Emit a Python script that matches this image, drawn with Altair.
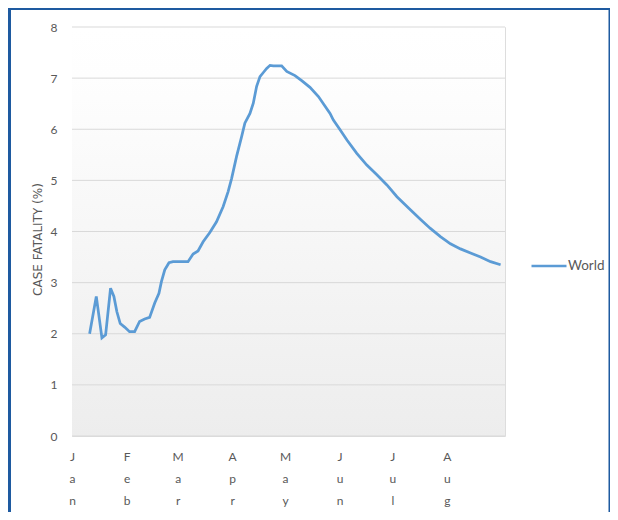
import altair as alt
import pandas as pd

# ---- data ----
month_labels = ["Jan", "Feb", "Mar", "Apr", "May", "Jun", "Jul", "Aug"]
month_days = [0, 31, 60, 91, 121, 152, 182, 213]
y_ticks = [0, 1, 2, 3, 4, 5, 6, 7, 8]
series_name = "World"

days = [10.0, 13.8, 17.0, 19.1, 21.9, 23.8, 25.5, 27.4, 29.9, 32.7, 35.6, 38.4,
        41.3, 44.1, 47.0, 49.4, 50.8, 52.7, 55.1, 57.4, 65.9, 68.8, 71.6, 74.5,
        78.3, 82.1, 85.9, 88.7, 90.7, 93.5, 96.4, 98.2, 101.1, 103.0, 104.9,
        106.8, 108.7, 110.6, 112.5, 114.4, 119.1, 122.0, 126.7, 130.5, 135.2,
        140.0, 146.6, 148.5, 152.3, 156.2, 161.8, 167.5, 173.2, 178.9, 184.6,
        191.2, 197.9, 203.6, 209.3, 215.0, 220.7, 226.4, 232.1, 237.8, 243.5]
cfr = [2.00, 2.73, 1.92, 1.98, 2.89, 2.73, 2.43, 2.20, 2.13, 2.04, 2.04, 2.24,
       2.29, 2.32, 2.60, 2.79, 3.02, 3.25, 3.39, 3.41, 3.41, 3.56, 3.62, 3.80,
       3.98, 4.19, 4.49, 4.78, 5.04, 5.47, 5.86, 6.12, 6.31, 6.51, 6.84,
       7.03, 7.11, 7.19, 7.25, 7.24, 7.24, 7.13, 7.05, 6.95, 6.82,
       6.64, 6.31, 6.18, 5.99, 5.79, 5.53, 5.30, 5.11, 4.91, 4.68,
       4.46, 4.24, 4.06, 3.90, 3.76, 3.66, 3.58, 3.50, 3.41, 3.35]

df = pd.DataFrame({"day": days, "cfr": cfr, "series": series_name})
grid_df = pd.DataFrame({"v": y_ticks})
one = pd.DataFrame({"a": [0]})

# month label expression (vertical letters)
expr = "''"
for d, m in reversed(list(zip(month_days, month_labels))):
    expr = f"datum.value == {d} ? '{m}' : ({expr})"
label_expr = f"split({expr}, '')"

FONT = "Lato"
TXT = "#595959"

x_scale = alt.Scale(domain=[0, 246], nice=False, zero=False)
y_scale = alt.Scale(domain=[0, 8], nice=False)

y_axis = alt.Axis(values=y_ticks, title="CASE FATALITY (%)", grid=False,
                  domain=False, ticks=False, labelFont=FONT,
                  labelFontSize=12, labelColor=TXT, labelPadding=15,
                  titleFont="DejaVu Sans", titleFontSize=12,
                  titleFontWeight="normal", titleColor=TXT,
                  titleAngle=270, titleX=-35, titleY=212,
                  titleAlign="center", titleBaseline="middle")

x_axis = alt.Axis(values=month_days, labelExpr=label_expr, title=None,
                  grid=False, domain=False, ticks=False,
                  labelFont=FONT, labelFontSize=12, labelColor=TXT,
                  labelPadding=15, labelLineHeight=22,
                  labelAlign="center", labelBaseline="top")

grad = alt.LinearGradient(
    gradient="linear",
    stops=[alt.GradientStop(color="#FFFFFF", offset=0),
           alt.GradientStop(color="#FEFEFE", offset=0.12),
           alt.GradientStop(color="#EDEDED", offset=1)],
    x1=0, x2=0, y1=0, y2=1)

bg = alt.Chart(one).mark_rect(fill=grad, strokeWidth=0).encode(
    x=alt.value(0), x2=alt.value("width"), y=alt.value(0), y2=alt.value("height"))

grid = alt.Chart(grid_df).mark_rule(color="#D9D9D9", strokeWidth=1).encode(
    y=alt.Y("v:Q", scale=y_scale, axis=y_axis))

line = alt.Chart(df).mark_line(strokeWidth=2.75).encode(
    x=alt.X("day:Q", scale=x_scale, axis=x_axis),
    y=alt.Y("cfr:Q", scale=y_scale, axis=y_axis),
    color=alt.Color("series:N",
                    scale=alt.Scale(domain=[series_name], range=["#5B9BD5"]),
                    legend=alt.Legend(title=None, orient="none", legendX=458,
                                      legendY=220, symbolType="stroke",
                                      symbolSize=1225, symbolStrokeWidth=2.5,
                                      labelFont=FONT, labelFontSize=13.5,
                                      labelColor=TXT, labelOffset=0, padding=0)))

border = alt.Chart(one).mark_rect(fillOpacity=0, stroke="#1E5AA0",
                                  strokeWidth=3, clip=False).encode(
    x=alt.value(-62.5), x2=alt.value(538), y=alt.value(-18.5), y2=alt.value(500))

chart = alt.layer(bg, grid, line, border).properties(
    width=433, height=409,
    autosize=alt.AutoSizeParams(type="none"),
    padding={"left": 64, "top": 19, "right": 105, "bottom": 76},
).configure_view(stroke=None).configure(background="white")

chart.save("out.html", embed_options={"renderer": "svg", "actions": False})
